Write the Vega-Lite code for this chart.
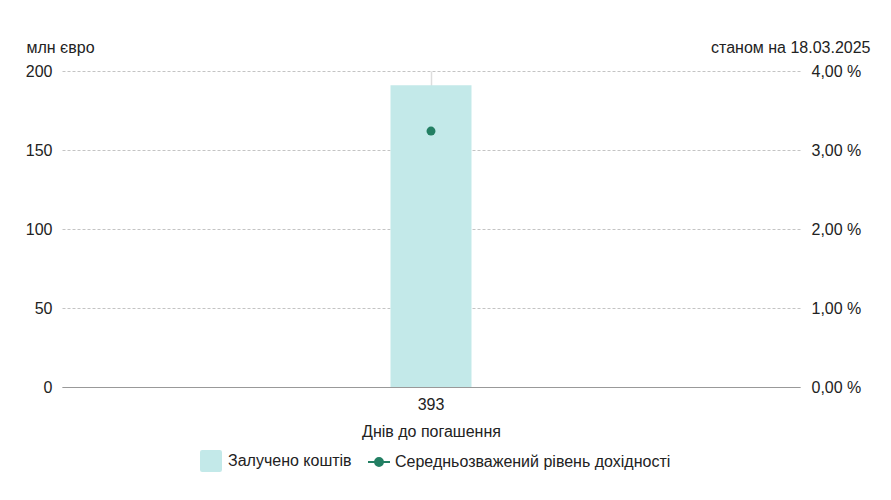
{
  "$schema": "https://vega.github.io/schema/vega-lite/v6.json",
  "width": 738,
  "height": 316,
  "autosize": "none",
  "padding": {"left": 62, "top": 71, "right": 91, "bottom": 113},
  "background": "#ffffff",
  "config": {
    "font": "Liberation Sans",
    "view": {"stroke": null},
    "axis": {"labelFont": "Liberation Sans", "titleFont": "Liberation Sans", "labelFontSize": 16, "titleFontSize": 16, "labelColor": "#222222", "titleColor": "#222222", "titleFontWeight": "normal"},
    "legend": {"labelFont": "Liberation Sans", "labelFontSize": 16, "labelColor": "#222222", "labelLimit": 400}
  },
  "data": {"values": [{"days": "393", "amount": 191, "yield": 3.24}]},
  "encoding": {
    "x": {
      "field": "days", "type": "nominal",
      "scale": {"paddingInner": 0.1, "paddingOuter": 0.1},
      "axis": {"title": "Днів до погашення", "labelAngle": 0, "ticks": false, "labelPadding": 9, "titlePadding": 11,
        "domain": true, "domainColor": "#999999", "domainWidth": 1,
        "grid": true, "gridColor": "#dddddd", "gridWidth": 1.5}
    }
  },
  "layer": [
    {
      "mark": {"type": "bar", "size": 81},
      "encoding": {
        "y": {"field": "amount", "type": "quantitative",
          "scale": {"domain": [0, 200]},
          "axis": {"orient": "left", "values": [0, 50, 100, 150, 200], "ticks": false, "domain": false, "labelPadding": 10,
            "grid": true, "gridDash": [3, 2], "gridColor": "#c4c4c4",
            "title": "млн євро", "titleAngle": 0, "titleAlign": "left", "titleBaseline": "alphabetic", "titleX": -36, "titleY": -19}},
        "fill": {"datum": "Залучено коштів", "type": "nominal",
          "scale": {"range": ["#c3e9e9"]},
          "legend": {"title": null, "orient": "none", "legendX": 138, "legendY": 379, "symbolType": "M-0.8,-1H0.8Q1,-1 1,-0.8V0.8Q1,1 0.8,1H-0.8Q-1,1 -1,0.8V-0.8Q-1,-1 -0.8,-1Z", "symbolSize": 484, "symbolStrokeWidth": 0, "labelOffset": 6, "padding": 0}}
      }
    },
    {
      "mark": {"type": "point", "filled": true, "fill": "#237f63", "size": 80, "opacity": 1, "strokeWidth": 0},
      "encoding": {
        "y": {"field": "yield", "type": "quantitative",
          "scale": {"domain": [0, 4]},
          "axis": {"orient": "right", "values": [0, 1, 2, 3, 4], "ticks": false, "domain": false, "grid": false, "labelPadding": 11,
            "labelExpr": "replace(format(datum.value, '.2f'), '.', ',') + ' %'",
            "title": "станом на 18.03.2025", "titleAngle": 0, "titleAlign": "right", "titleBaseline": "alphabetic", "titleX": 70, "titleY": -19}},
        "stroke": {"datum": "Середньозважений рівень дохідності", "type": "nominal",
          "scale": {"range": ["#237f63"]},
          "legend": {"title": null, "orient": "none", "legendX": 305, "legendY": 379, "symbolType": "M-1,0H1M-0.36,0A0.36,0.36 0 1,0 0.36,0A0.36,0.36 0 1,0 -0.36,0Z", "symbolSize": 484, "symbolStrokeWidth": 2, "symbolFillColor": "#237f63", "labelOffset": 4, "padding": 0}}
      }
    }
  ],
  "resolve": {"scale": {"y": "independent"}}
}
